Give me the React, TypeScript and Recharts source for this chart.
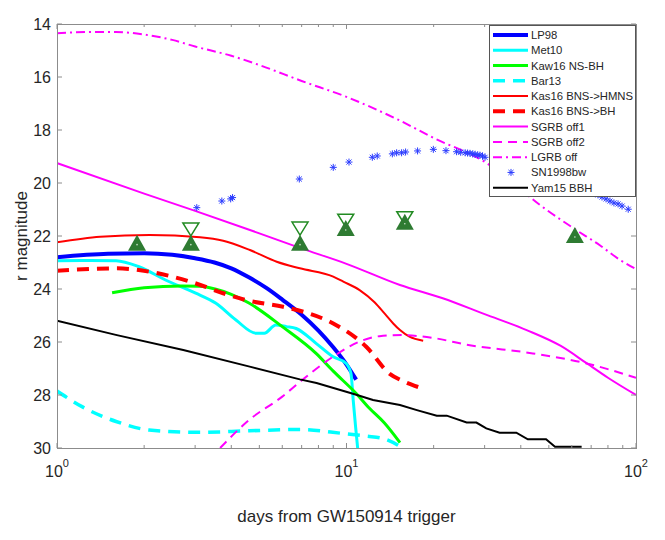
import { ComposedChart, Line, Scatter, XAxis, YAxis } from "recharts";

const W = 649;
const H = 524;
const M = { top: 16, right: 21, bottom: 8, left: 9 };
const PLOT_TOP = M.top;
const PLOT_RIGHT = W - M.right;
const AXIS = "#8c8c8c";
const TXT = "#262626";
const FONT = '"Liberation Sans", Arial, Helvetica, sans-serif';

// axes
const xMajor = [1, 10, 100];
const xTicks = [1, 2, 3, 4, 5, 6, 7, 8, 9, 10, 20, 30, 40, 50, 60, 70, 80, 90, 100];
const yTicks = [14, 16, 18, 20, 22, 24, 26, 28, 30];

// model curves (days, r mag)
const lp98Days = [1, 1.5, 2, 2.5, 3, 3.5, 4, 4.6, 5.3, 6, 7, 8, 9, 10, 10.8];
const lp98Mag = [22.8, 22.67, 22.65, 22.71, 22.84, 23.0, 23.22, 23.56, 23.97, 24.4, 24.97, 25.57, 26.2, 26.85, 27.42];

const met10Days = [1, 1.3, 1.6, 1.92, 2.37, 3.0, 3.54, 4.15, 4.87, 5.2, 5.7, 6.2, 6.7, 7.85, 8.96, 9.95, 10.36, 10.55, 10.75, 10.95];
const met10Mag = [22.93, 22.92, 22.93, 23.16, 23.66, 24.15, 24.54, 25.17, 25.67, 25.67, 25.36, 25.42, 25.49, 26.05, 26.55, 26.8, 27.18, 28.2, 29.2, 30.1];

const kawDays = [1.55, 2, 2.7, 3.1, 3.54, 4, 4.62, 6, 7.85, 9, 10.8, 12, 13.5, 15.3];
const kawMag = [24.14, 23.95, 23.89, 23.9, 24.01, 24.2, 24.54, 25.42, 26.43, 27.1, 27.94, 28.5, 29.05, 29.8];

const bar13Days = [1, 1.22, 1.6, 2.08, 3.1, 4.62, 6.88, 9.7, 11.7, 13.5, 15.9];
const bar13Mag = [27.85, 28.44, 29.0, 29.32, 29.41, 29.35, 29.3, 29.45, 29.55, 29.65, 30.05];

const kasHmnsDays = [1, 1.41, 2.09, 3.12, 3.75, 4.64, 5.74, 6.9, 9, 9.75, 11.1, 12.5, 13.6, 14.5, 15.3, 16.5, 18.4];
const kasHmnsMag = [22.24, 22.03, 21.96, 22.05, 22.18, 22.53, 22.97, 23.22, 23.53, 23.72, 24.04, 24.5, 24.95, 25.3, 25.55, 25.8, 25.95];

const kasBhDays = [1, 1.61, 2.09, 2.96, 3.75, 4.5, 6.04, 7.1, 9, 11.7, 14.1, 15.5, 17.7];
const kasBhMag = [23.31, 23.22, 23.35, 23.76, 24.16, 24.42, 24.67, 24.86, 25.3, 26.18, 27.2, 27.45, 27.7];

const sgrb1Days = [1, 2, 3, 5, 6.9, 10, 15.3, 21.5, 30, 41.9, 55, 67.5, 80, 100];
const sgrb1Mag = [19.25, 20.4, 21.05, 21.9, 22.45, 23.05, 23.85, 24.35, 24.95, 25.55, 26.15, 26.8, 27.35, 28.0];

const sgrb2Days = [3.66, 4.6, 6.0, 7, 9, 11, 13, 15.5, 20, 26, 44, 67, 100];
const sgrb2Mag = [30.0, 28.95, 28.06, 27.45, 26.55, 26.0, 25.78, 25.74, 25.85, 26.1, 26.43, 26.8, 27.35];

const lgrbDays = [1, 1.3, 1.6, 2, 2.5, 3, 4, 5, 7, 10, 15, 20, 30.5, 40, 46.6, 61.5, 75, 88, 100];
const lgrbMag = [14.35, 14.3, 14.3, 14.4, 14.6, 14.85, 15.2, 15.55, 16.15, 16.75, 17.6, 18.3, 19.25, 20.25, 20.83, 21.74, 22.35, 22.9, 23.25];

const yamDays = [1, 1.61, 2.73, 4.63, 6.9, 7.88, 10.6, 12.35, 15.3, 17.5, 20.5, 22.2, 26, 28.1, 30.4, 33.8, 38.6, 42.3, 48.9, 52.5, 64.9];
const yamMag = [25.2, 25.74, 26.3, 26.93, 27.41, 27.55, 27.96, 28.19, 28.38, 28.57, 28.78, 28.78, 29.04, 29.04, 29.26, 29.42, 29.42, 29.67, 29.67, 29.95, 29.95];

// SN1998bw light curve
const snDays = [3.04, 3.71, 3.98, 4.04, 6.87, 9.0, 10.2, 12.28, 12.77, 14.4, 14.9, 15.5, 16.0, 17.6, 19.95, 22.06, 24.0, 24.8, 25.7, 26.2, 26.7, 27.3, 27.8, 28.4, 28.9, 29.5, 30.1, 73.9, 76.3, 78.8, 81.3, 83.9, 86.7, 89.5, 94.0];
const snMag = [20.93, 20.68, 20.6, 20.55, 19.85, 19.41, 19.21, 19.03, 18.98, 18.9, 18.86, 18.86, 18.83, 18.79, 18.73, 18.78, 18.82, 18.84, 18.86, 18.87, 18.88, 18.9, 18.92, 18.94, 18.95, 18.98, 19.03, 20.45, 20.53, 20.6, 20.68, 20.75, 20.79, 20.87, 20.99];

// observations: detections and upper limits
const detDays = [1.89, 2.9, 6.91, 9.94, 15.9, 61.5];
const detMag = [22.25, 22.25, 22.25, 21.7, 21.46, 21.96];
const limDays = [2.9, 6.91, 9.94, 15.9];
const limMag = [21.75, 21.72, 21.42, 21.33];

const pts = (d: number[], m: number[]) => d.map((x, i) => ({ d: x, m: m[i] }));

type Series = {
  name: string;
  days: number[];
  mag: number[];
  color: string;
  width: number;
  dash?: string;
  curve?: "monotoneX" | "linear";
};

const series: Series[] = [
  { name: "LP98", days: lp98Days, mag: lp98Mag, color: "#0000ff", width: 4 },
  { name: "Met10", days: met10Days, mag: met10Mag, color: "#00ffff", width: 3 },
  { name: "Kaw16 NS-BH", days: kawDays, mag: kawMag, color: "#00ff00", width: 3 },
  { name: "Bar13", days: bar13Days, mag: bar13Mag, color: "#00ffff", width: 3.5, dash: "12 8" },
  { name: "Kas16 BNS->HMNS", days: kasHmnsDays, mag: kasHmnsMag, color: "#ff0000", width: 2 },
  { name: "Kas16 BNS->BH", days: kasBhDays, mag: kasBhMag, color: "#ff0000", width: 4, dash: "12 8" },
  { name: "SGRB off1", days: sgrb1Days, mag: sgrb1Mag, color: "#ff00ff", width: 2 },
  { name: "SGRB off2", days: sgrb2Days, mag: sgrb2Mag, color: "#ff00ff", width: 2, dash: "9 6" },
  { name: "LGRB off", days: lgrbDays, mag: lgrbMag, color: "#ff00ff", width: 2, dash: "9 4 2 4" },
];
const yam: Series = { name: "Yam15 BBH", days: yamDays, mag: yamMag, color: "#000000", width: 2, curve: "linear" };

const SN_BLUE = "#2b3cff";
const GREEN = "#2e7b32";

function Star({ cx, cy }: any) {
  const r = 3.5;
  const s = r * 0.72;
  return (
    <g stroke={SN_BLUE} strokeWidth={1}>
      <line x1={cx - r} x2={cx + r} y1={cy} y2={cy} />
      <line x1={cx} x2={cx} y1={cy - r} y2={cy + r} />
      <line x1={cx - s} x2={cx + s} y1={cy - s} y2={cy + s} />
      <line x1={cx - s} x2={cx + s} y1={cy + s} y2={cy - s} />
    </g>
  );
}

function UpTri({ cx, cy }: any) {
  return (
    <g>
      <polygon points={`${cx},${cy - 8} ${cx - 9},${cy + 8} ${cx + 9},${cy + 8}`} fill={GREEN} />
      <circle cx={cx} cy={cy + 2} r={0.8} fill="#cfe3cf" />
    </g>
  );
}

function DownTri({ cx, cy }: any) {
  return (
    <polygon
      points={`${cx - 8},${cy - 6.5} ${cx + 8},${cy - 6.5} ${cx},${cy + 6.5}`}
      fill="#ffffff"
      stroke="#228b22"
      strokeWidth={1.5}
    />
  );
}

function XTick({ x, y, payload }: any) {
  const v = payload.value;
  const major = xMajor.includes(v);
  const len = major ? 5 : 3;
  return (
    <g>
      <line x1={x} x2={x} y1={y} y2={y - len} stroke={AXIS} />
      <line x1={x} x2={x} y1={PLOT_TOP} y2={PLOT_TOP + len} stroke={AXIS} />
      {major && (
        <text x={x} y={y + 29} textAnchor="middle" fontSize={16} fill={TXT} fontFamily={FONT}>
          10
          <tspan dy={-10} fontSize={11}>
            {Math.round(Math.log10(v))}
          </tspan>
        </text>
      )}
    </g>
  );
}

function YTick({ x, y, payload }: any) {
  return (
    <g>
      <line x1={x} x2={x + 5} y1={y} y2={y} stroke={AXIS} />
      <line x1={PLOT_RIGHT - 5} x2={PLOT_RIGHT} y1={y} y2={y} stroke={AXIS} />
      <text x={x - 6} y={y} dy="0.36em" textAnchor="end" fontSize={16} fill={TXT} fontFamily={FONT}>
        {payload.value}
      </text>
    </g>
  );
}

function LegendBox() {
  const rows = [...series, { name: "SN1998bw" } as any, yam];
  const rowH = 15.27;
  return (
    <div
      style={{
        position: "absolute",
        left: M.left + 40 + 432,
        top: PLOT_TOP + 1,
        width: 147,
        height: 172,
        background: "#fff",
        border: "1px solid #555",
        boxSizing: "border-box",
      }}
    >
      <svg width={145} height={170}>
        {rows.map((s: any, i: number) => {
          const cy = 9 + i * rowH;
          return (
            <g key={s.name}>
              {s.name === "SN1998bw" ? (
                <Star cx={21} cy={cy} />
              ) : (
                <line
                  x1={3}
                  x2={38}
                  y1={cy}
                  y2={cy}
                  stroke={s.color}
                  strokeWidth={s.width}
                  strokeDasharray={s.dash}
                />
              )}
              <text x={41} y={cy} dy="0.36em" fontSize={11.3} fill={TXT} fontFamily={FONT}>
                {s.name}
              </text>
            </g>
          );
        })}
      </svg>
    </div>
  );
}

export default function App() {
  return (
    <div style={{ position: "relative", width: W, height: H, fontFamily: FONT }}>
      <ComposedChart width={W} height={H} margin={M}>
        <XAxis
          dataKey="d"
          type="number"
          scale="log"
          domain={[1, 100]}
          allowDataOverflow
          ticks={xTicks}
          interval={0}
          tick={<XTick />}
          tickLine={false}
          tickSize={0}
          tickMargin={0}
          axisLine={false}
          height={76}
          label={{
            content: ({ viewBox }: any) => (
              <text
                x={viewBox.x + viewBox.width / 2}
                y={viewBox.y + 74}
                textAnchor="middle"
                fontSize={17}
                fill={TXT}
                fontFamily={FONT}
              >
                days from GW150914 trigger
              </text>
            ),
          }}
        />
        <YAxis
          dataKey="m"
          type="number"
          reversed
          domain={[14, 30]}
          allowDataOverflow
          ticks={yTicks}
          interval={0}
          tick={<YTick />}
          tickLine={false}
          tickSize={0}
          tickMargin={0}
          axisLine={false}
          width={40}
          label={{
            content: ({ viewBox }: any) => {
              const cx = viewBox.x + 4;
              const cy = viewBox.y + viewBox.height / 2;
              return (
                <text
                  x={cx}
                  y={cy}
                  transform={`rotate(-90 ${cx} ${cy})`}
                  textAnchor="middle"
                  dominantBaseline="central"
                  fontSize={17}
                  fill={TXT}
                  fontFamily={FONT}
                >
                  r magnitude
                </text>
              );
            },
          }}
        />
        <Scatter data={pts(limDays, limMag)} dataKey="m" shape={<DownTri />} isAnimationActive={false} />
        <Scatter data={pts(detDays, detMag)} dataKey="m" shape={<UpTri />} isAnimationActive={false} />
        {series.map((s) => (
          <Line
            key={s.name}
            data={pts(s.days, s.mag)}
            dataKey="m"
            type={s.curve ?? "monotoneX"}
            stroke={s.color}
            strokeWidth={s.width}
            strokeDasharray={s.dash}
            dot={false}
            activeDot={false}
            isAnimationActive={false}
          />
        ))}
        <Scatter data={pts(snDays, snMag)} dataKey="m" shape={<Star />} isAnimationActive={false} />
        <Line
          data={pts(yam.days, yam.mag)}
          dataKey="m"
          type="linear"
          stroke={yam.color}
          strokeWidth={yam.width}
          dot={false}
          activeDot={false}
          isAnimationActive={false}
        />
      </ComposedChart>
      <div
        style={{
          position: "absolute",
          left: M.left + 40,
          top: PLOT_TOP,
          width: PLOT_RIGHT - M.left - 40 + 1,
          height: 425,
          border: `1px solid ${AXIS}`,
          boxSizing: "border-box",
          pointerEvents: "none",
        }}
      />
      <LegendBox />
    </div>
  );
}
